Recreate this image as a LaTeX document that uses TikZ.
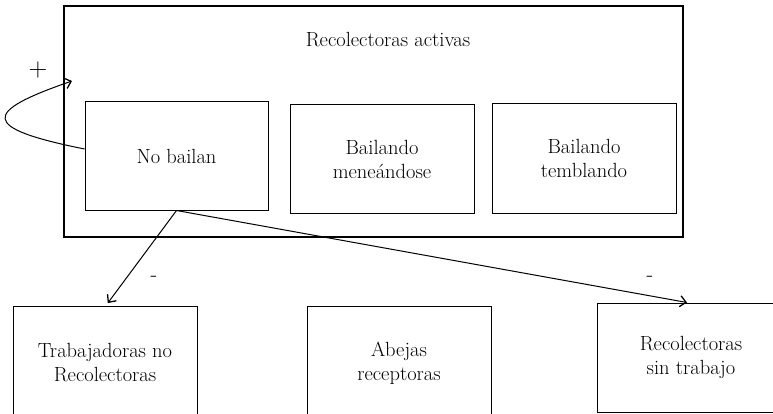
\documentclass[tikz,border=0pt]{standalone}
\usetikzlibrary{arrows.meta}
\begin{document}
\begin{tikzpicture}[x=1pt,y=-1pt,
  lbl/.style={font=\fontsize{20.5}{24}\selectfont, align=center, text=black},
  box/.style={draw, line width=1pt, minimum width=184pt, minimum height=108pt, inner sep=0pt, lbl},
  arr/.style={line width=1pt, -{Straight Barb[length=6pt,width=11pt,line width=1.3pt]}},
  sign/.style={font=\fontsize{22}{24}\selectfont, inner sep=0pt}]
\useasboundingbox (0,0) rectangle (773,414);
\clip (0,0) rectangle (773,414);

% group of active foragers
\node[draw, line width=1.2pt, minimum width=619pt, minimum height=231pt, inner sep=0pt] (outer) at (373.5,121.5) {};
\node[lbl] (title) at (388,40) {Recolectoras activas};

\node[box, minimum width=183pt] (nb) at (176.5,156) {No bailan};
\node[box] (men) at (382,159) {Bailando\\meneándose};
\node[box, minimum height=109pt] (tem) at (584,158.5) {Bailando\\temblando};

% destination groups
\node[box, minimum height=114pt] (trab) at (105,363) {Trabajadoras no\\Recolectoras};
\node[box, minimum height=114pt] (abe) at (399,363) {Abejas\\receptoras};
\node[box, minimum width=188pt, minimum height=109pt] (sin) at (691,357.5) {Recolectoras\\sin trabajo};

% self-reinforcing loop
\coordinate (loopend) at (72,81);
\draw[arr] ([yshift=7pt]nb.west) .. controls (-20,128) and (-18,112) .. (loopend);
\node[font=\fontsize{26}{28}\selectfont, inner sep=0pt] (plus) at (38,70) {+};

% outflows
\draw[arr, shorten >=3pt] (nb.south) -- ([xshift=1pt]trab.north);
\draw[arr] (nb.south) -- ([xshift=-4pt]sin.north);
\node[sign] (m1) at (154,279) {-};
\node[sign] (m2) at (650,279) {-};
\end{tikzpicture}
\end{document}
